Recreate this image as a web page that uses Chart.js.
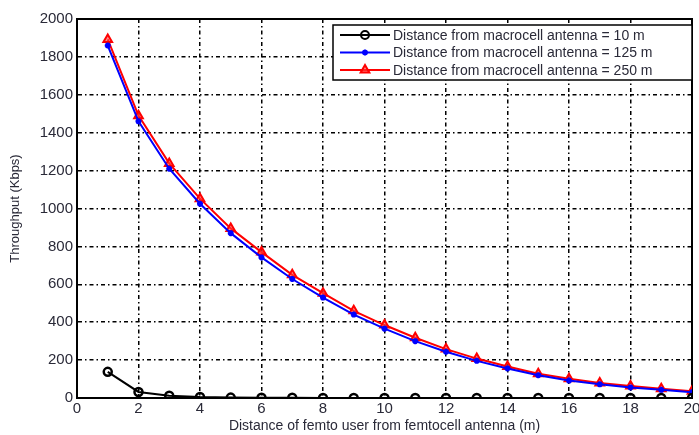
<!DOCTYPE html>
<html>
<head>
<meta charset="utf-8">
<script src="https://cdn.jsdelivr.net/npm/chart.js@4/dist/chart.umd.min.js"></script>
<style>
  html, body { margin: 0; padding: 0; background: #fff; }
  #wrap { width: 699px; height: 435px; }
</style>
</head>
<body>
<div id="wrap"><canvas id="tputChart" width="699" height="435"></canvas></div>
<script>
// Data
const distances = [1, 2, 3, 4, 5, 6, 7, 8, 9, 10, 11, 12, 13, 14, 15, 16, 17, 18, 19, 20];
const tput10m = [138, 32, 12, 5, 2, 1, 1, 0, 0, 0, 0, 0, 0, 0, 0, 0, 0, 0, 0, 0];
const tput125m = [1860, 1460, 1210, 1025, 870, 742, 628, 530, 440, 366, 300, 244, 196, 156, 120, 92, 72, 56, 43, 30];
const tput250m = [1892, 1490, 1238, 1052, 895, 770, 650, 553, 460, 385, 318, 258, 208, 166, 128, 101, 79, 63, 49, 35];
const seriesLabels = [
  "Distance from macrocell antenna = 10 m",
  "Distance from macrocell antenna = 125 m",
  "Distance from macrocell antenna = 250 m",
];
const xTitle = "Distance of femto user from femtocell antenna (m)";
const yTitle = "Throughput (Kbps)";

const textColor = "#2a2a38";
const fontFamily = "'Liberation Sans', Arial, sans-serif";
const gridDash = [4, 3, 1.5, 3];

function toPoints(values) {
  return distances.map((d, i) => ({ x: d, y: values[i] }));
}

// Solid box around the plot area, like the MATLAB axes
const boxPlugin = {
  id: "box",
  beforeDatasetsDraw(chart) {
    const a = chart.chartArea;
    const ctx = chart.ctx;
    ctx.save();
    ctx.setLineDash([]);
    ctx.strokeStyle = "#000";
    ctx.lineWidth = 2;
    ctx.strokeRect(a.left, a.top, a.right - a.left, a.bottom - a.top);
    ctx.restore();
  },
};

// Legend box inside the plot, top right
const legendBoxPlugin = {
  id: "legendBox",
  afterDraw(chart) {
    const ctx = chart.ctx;
    const left = 333, top = 25, w = 359, h = 55;
    ctx.save();
    ctx.fillStyle = "#fff";
    ctx.fillRect(left, top, w, h);
    ctx.strokeStyle = "#000";
    ctx.lineWidth = 1.5;
    ctx.strokeRect(left, top, w, h);
    ctx.font = "14px " + fontFamily;
    ctx.textBaseline = "middle";
    chart.data.datasets.forEach((ds, i) => {
      const y = top + 10 + i * 17.5;
      ctx.strokeStyle = ds.borderColor;
      ctx.fillStyle = ds.backgroundColor;
      ctx.lineWidth = 2;
      ctx.beginPath();
      ctx.moveTo(left + 7, y);
      ctx.lineTo(left + 57, y);
      ctx.stroke();
      Chart.helpers.drawPoint(ctx, {
        pointStyle: ds.pointStyle,
        radius: ds.pointRadius,
        borderWidth: 2,
        rotation: 0,
      }, left + 32, y);
      ctx.fillStyle = textColor;
      ctx.fillText(ds.label, left + 60, y + 1);
    });
    ctx.restore();
  },
};

new Chart(document.getElementById("tputChart").getContext("2d"), {
  type: "line",
  data: {
    datasets: [
      {
        label: seriesLabels[0],
        data: toPoints(tput10m),
        borderColor: "#000000",
        backgroundColor: "rgba(255,255,255,0)",
        pointStyle: "circle",
        pointRadius: 4,
        pointBorderWidth: 2.5,
        borderWidth: 2,
      },
      {
        label: seriesLabels[1],
        data: toPoints(tput125m),
        borderColor: "#0000ff",
        backgroundColor: "#0000ff",
        pointStyle: "star",
        pointRadius: 3,
        pointBorderWidth: 2,
        borderWidth: 2,
      },
      {
        label: seriesLabels[2],
        data: toPoints(tput250m),
        borderColor: "#ff0000",
        backgroundColor: "rgba(255,60,60,0.6)",
        pointStyle: "triangle",
        pointRadius: 5,
        pointBorderWidth: 2,
        borderWidth: 2,
      },
    ],
  },
  options: {
    responsive: false,
    animation: false,
    layout: { padding: { left: 8, right: 6, top: 19, bottom: 0 } },
    plugins: {
      legend: { display: false },
      tooltip: { enabled: false },
    },
    scales: {
      x: {
        type: "linear",
        min: 0,
        max: 20,
        ticks: {
          stepSize: 2,
          color: textColor,
          padding: 2,
          maxRotation: 0,
          font: { family: fontFamily, size: 15 },
        },
        grid: { color: "#000", lineWidth: 1.5, tickLength: 0, drawTicks: false, borderDash: gridDash },
        border: { display: true, color: "#000", dash: gridDash },
        title: {
          display: true,
          text: xTitle,
          color: textColor,
          padding: { top: 0, bottom: 0 },
          font: { family: fontFamily, size: 14 },
        },
        afterFit(scale) {
          scale.height = 37;
          scale.paddingLeft = 0;
          scale.paddingRight = 0;
        },
      },
      y: {
        min: 0,
        max: 2000,
        ticks: {
          stepSize: 200,
          color: textColor,
          padding: 4,
          font: { family: fontFamily, size: 15 },
          callback: (v) => String(v),
        },
        grid: { color: "#000", lineWidth: 1.5, tickLength: 0, drawTicks: false, borderDash: gridDash },
        border: { display: true, color: "#000", dash: gridDash },
        title: {
          display: true,
          text: yTitle,
          color: textColor,
          padding: { top: 0, bottom: 4 },
          font: { family: fontFamily, size: 13 },
        },
        afterFit(scale) {
          scale.width = 69;
          scale.paddingTop = 0;
          scale.paddingBottom = 0;
        },
      },
    },
  },
  plugins: [boxPlugin, legendBoxPlugin],
});
</script>
</body>
</html>
